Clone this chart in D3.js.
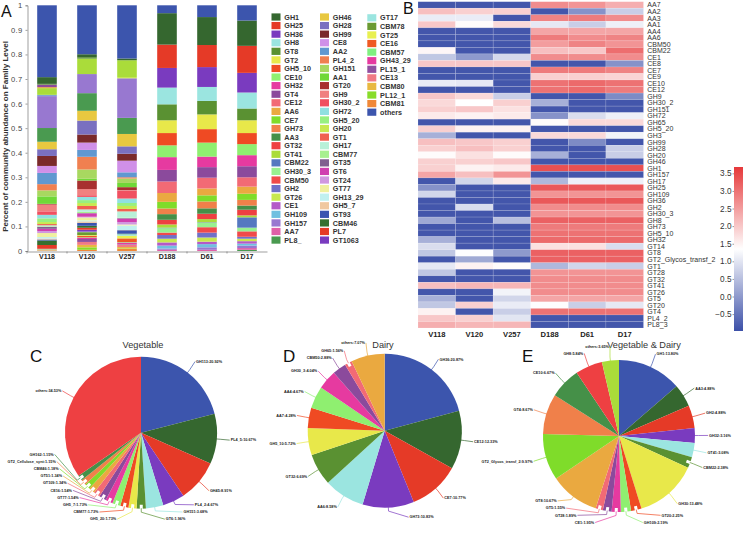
<!DOCTYPE html>
<html><head><meta charset="utf-8">
<script src="https://cdn.jsdelivr.net/npm/d3@7/dist/d3.min.js"></script>
<style>html,body{margin:0;padding:0;background:#fff}svg{display:block}text{font-family:"Liberation Sans",Arial,sans-serif}</style>
</head><body><svg id="c" width="743" height="536"></svg>
<script>
// ---------- Panel A data ----------
const samples=["V118","V120","V257","D188","D61","D17"];
const families=["GH1","GH25","GH36","GH8","GT8","GT2","GH5_10","CE10","GH32","GT4","CE12","AA6","CE7","GH73","AA3","GT32","GT41","CBM22","GH30_3","CBM50","GH2","GT26","CE1","GH109","GH157","AA7","PL8_",
"GH46","GH28","GH99","CE8","AA2","PL4_2","GH151","AA1","GT20","GH9","GH30_2","GH72","GH5_20","GH20","GT1","GH17","CBM77","GT35","GT6","GT24","GT77","GH13_29","GH5_7","GT93","CBM46","PL7","GT1063",
"GT17","CBM78","GT25","CE16","CBM57","GH43_29","PL15_1","CE13","CBM80","PL12_1","CBM81","others"];
const familyColors=["#35672f","#e53a27","#7a3bbf","#9be5e0","#5a9132","#e8e84a","#ef4a23","#8fef70","#e63aa0","#8b4a9c","#f26a75","#eaa940","#7fdc2a","#f0804a","#459048","#ee4042","#aadc3a","#5578c0","#98f090","#f04a4a","#7070c8","#c8e850","#b45ac8","#70c0e0","#9878d0","#e060a8","#4a9a50",
"#e8c840","#7a70c0","#7a2a2a","#d090e8","#6098d0","#f08050","#a8d860","#70d838","#a83030","#f08080","#f05060","#90e0e0","#98f080","#c8e850","#f06050","#b8f0d8","#a8f090","#806090","#d040b0","#d098e0","#f0f0a0","#c0f0f0","#f0c8a0","#3a55b0","#357030","#e53a27","#7a3bbf",
"#9be5e0","#6a9a32","#e8f050","#ef5a23","#80f080","#e63aa0","#9050a0","#f07a85","#e8b840","#88dc2a","#f08838","#3c55ad"];
const V118=[.027,0,0,0,.003,0,0,0,0,.01,0,.004,0,0,0,0,.027,.003,0,0,0,0,0,.002,.128,0,.055,
.03,.027,.04,.028,.045,.025,.024,.03,.003,.027,.014,.014,.015,.008,.005,.004,.002,.008,.009,.008,.016,.006,.004,.004,.018,.015,.001,
.001,.001,.001,.001,0,0,0,.001,.001,.001,.001,.288];
const V120=[.012,0,0,0,.006,0,0,0,0,0,0,0,0,0,0,0,.063,0,0,0,0,0,0,0,.078,0,.072,
.04,.057,.033,.03,.028,.052,.038,.007,.035,.025,.007,.013,.012,.012,.014,.01,.005,.001,.014,.003,.012,.004,.006,.012,.008,.008,.008,
.002,.012,.003,.006,.002,.005,.012,.012,.01,.01,.005,.2];
const V257=[.007,0,0,0,0,0,0,0,0,0,0,0,0,0,0,0,.068,0,0,0,0,.005,0,0,.16,0,.065,
.05,.03,.028,.047,.02,.005,.018,.017,.012,.002,.032,.018,.012,.012,.01,.025,.002,.002,.014,.01,.004,.018,.001,.014,.002,0,0,
.006,.001,.01,.015,.002,.006,.002,.01,.006,.002,.008,.215];
const D188=[.128,.095,.08,.068,.065,.052,.05,.048,.052,.047,.047,.036,.027,.023,.023,.019,.013,.002,.018,.01,.015,.015,.013,.012,.005,.005,0,
0,0,0,0,0,0,0,0,0,0,0,0,0,0,0,0,0,0,0,0,0,0,0,0,0,0,0,
0,0,0,0,0,0,0,0,0,0,0,.032];
const D61=[.114,.09,.081,.057,.055,.06,.055,.057,.043,.043,.044,.028,.025,.028,.022,.022,.013,.002,.018,.022,.02,.017,.01,.013,.01,.005,0,
0,0,0,0,0,0,0,0,0,0,0,0,0,0,0,0,0,0,0,0,0,0,0,0,0,0,0,
0,0,0,0,0,0,0,0,0,0,0,.048];
const D17=[.103,.11,.08,.065,.048,.052,.045,.045,.045,.045,.038,.029,.025,.023,.017,.023,.008,.042,.015,.022,.008,.01,.01,.008,.01,.007,.005,
0,0,0,0,0,0,0,0,0,0,0,0,0,0,0,0,0,0,0,0,0,0,0,0,0,0,0,
0,0,0,0,0,0,0,0,0,0,0,.062];
const sampleValues=[V118,V120,V257,D188,D61,D17];
const yTicksA=[0,.1,.2,.3,.4,.5,.6,.7,.8,.9,1];

// ---------- Panel B data ----------
const heatRows=["AA7","AA2","AA3","AA1","AA4","AA6","CBM50","CBM22","CE1","CE8","CE7","CE9","CE10","CE12","GH9","GH30_2","GH151","GH72","GH65","GH5_20","GH3","GH99","GH28","GH20","GH46","GH1","GH157","GH17","GH25","GH109","GH36","GH2","GH30_3","GH8","GH73","GH5_10","GH32","GT14","GT8","GT2_Glycos_transf_2","GT1","GT28","GT32","GT41","GT26","GT5","GT20","GT4","PL4_2","PL8_3"];
const heatValues=[
[-.9,-.9,-.9,2.7,2.6,2.3],[2.1,1.9,1.9,-.9,-.1,.7],[1.1,1.1,-.9,2.8,2.9,2.7],[2,1.4,1.8,1.05,.7,1.15],[-.9,-.9,-.9,2.4,2.4,2.4],
[-.9,-.9,-.9,2.9,2.7,2.8],[-.9,-.9,-.9,2.5,2.8,2.6],[1.45,-.9,-.9,2.1,2,3.05],[.6,0,.85,2.7,2.7,2.7],[2,2,2,-.9,-.9,-.1],
[-.9,-.9,-.9,2.9,2.9,2.8],[-.9,-.9,-.9,1.9,1.9,1.85],[1.1,1.05,-.9,3,3.1,3],[-.9,-.9,-.9,3,3.1,2.9],[2,1.8,.7,-.9,-.9,-.2],
[1.8,1.35,1.9,.3,-.9,-.9],[1.9,2,1.7,-.9,-.9,-.9],[1.6,1.5,1.6,-.1,.9,1.15],[-.9,-.9,-.9,1.4,1.8,1.8],[1.9,1.5,1.5,-.9,-.9,-.9],
[.3,-.9,-.9,1.8,1.8,1.2],[2.1,2,1.9,-.9,-.2,-.9],[1.9,2.1,1.9,-.9,-.9,.7],[1.4,1.7,1.4,.3,-.9,.7],[1.9,1.9,2,-.9,-.9,-.9],
[1.9,1.5,1.6,3.4,3.4,3.4],[2.4,2.1,2.6,-.9,-.9,-.9],[-.9,.8,1.6,.4,1.15,1.15],[-.1,-.9,-.9,3.3,3.3,3.3],[.8,-.9,-.9,2.6,2.6,2.6],
[-.9,-.9,-.9,3.3,3.3,3.3],[-.9,.9,-.9,2.7,2.7,2.7],[-.9,-.9,-.9,2.6,2.6,2.6],[.2,-.9,.5,3.2,3.2,3.2],[-.9,-.9,-.9,2.9,2.9,2.9],
[-.9,-.9,-.9,3,3,3],[.3,-.9,-.9,3.1,3.1,3.1],[.9,-.9,-.9,1.7,1.7,.9],[.6,1.33,0,3.2,3.2,3.2],[-.9,.2,-.9,3.2,3.2,3.2],
[1.05,1.5,1.4,.4,.8,.7],[.6,-.9,-.9,2.6,2.6,2.6],[-.9,-.9,-.9,2.7,2.7,2.7],[2.1,2.2,2.2,2.7,2.7,2.7],[-.9,-.9,1.2,2.7,2.7,2.7],
[.3,-.9,.8,2.4,2.4,2.4],[.6,1.9,1.1,1.33,.7,1.05],[1.5,-.9,.7,3,3,3],[2,1.9,1,-.9,-.9,-.9],[2.3,2.2,2.2,-.9,-.9,-.9]];
const colorbarTicks=[-.5,0,.5,1,1.5,2,2.5,3,3.5];

// ---------- Pie data ----------
const pieCNames=["GH113","PL4_5","GH45","PL4_2","GH151","GT6","GH5_20","CBM77","GH5_7","GT77","CE16","GT109","GT51","CBM46","GT2_Cellulose_synt","GH162","others"];
const pieCValues=[20.92,10.67,8.91,4.67,3.68,1.96,1.73,1.73,1.73,1.54,1.54,1.34,1.34,1.18,1.15,1.15,34.53];
const pieDNames=["GH36","CE12","CE7","GH73","AA6","GT32","GH5_10","AA7","AA4","GH30_3","CBM50","GH65","others"];
const pieDValues=[20.87,12.33,10.77,10.83,8.58,6.69,5.72,4.28,4.67,4.04,2.88,1.56,7.07];
const pieENames=["GH1","AA3","GH2","GH32","GT41","CBM22","GH30","GT20","GH109","CE1","GT28","GT5","GT8","GT2_Glycos_transf_2","GT4","CE10","GH8","others"];
const pieEValues=[13.8,4.88,4.88,3.16,3.08,2.38,13.48,2.25,2.19,1.95,1.89,1.55,10.67,9.97,8.67,6.67,5.84,3.65];
const piePalette=["#3c55ad","#35672f","#e53a27","#7a3bbf","#9be5e0","#5a9132","#e8e84a","#ef4a23","#8fef70","#e63aa0","#8b4a9c","#f26a75","#eaa940","#7fdc2a","#f0804a","#459048","#ee4042","#aadc3a"];

const svg=d3.select("#c");
svg.append("rect").attr("width",743).attr("height",536).attr("fill","#fff");
const letter=(t,x,y,s)=>svg.append("text").attr("x",x).attr("y",y).attr("font-size",s).attr("fill","#111").text(t);

// ---------- Panel A ----------
const xA=d3.scaleBand().domain(samples).range([27,267]).paddingInner(.51).paddingOuter(.255);
const yA=d3.scaleLinear().domain([0,1]).range([251,5.3]);
const rowsA=samples.map((s,i)=>{const o={sample:s};families.forEach((f,j)=>o[f]=sampleValues[i][j]);return o;});
const stackKeys=families.slice(0,-1).reverse().concat(families.slice(-1));
const stackA=d3.stack().keys(stackKeys).offset(d3.stackOffsetExpand)(rowsA);
const colorA=d3.scaleOrdinal(families,familyColors);
svg.append("g").selectAll("g").data(stackA).join("g").attr("fill",d=>colorA(d.key))
 .selectAll("rect").data(d=>d).join("rect")
 .attr("x",d=>xA(d.data.sample)).attr("width",xA.bandwidth())
 .attr("y",d=>yA(d[1])).attr("height",d=>yA(d[0])-yA(d[1]));
const axL=svg.append("g").attr("transform","translate(27.5,0)").call(d3.axisLeft(yA).tickValues(yTicksA).tickFormat(d=>String(d)).tickSize(2));
axL.selectAll("text").attr("font-size",7.6).attr("fill","#444").attr("font-family","Liberation Sans").attr("letter-spacing",".3");
axL.selectAll("line,path").attr("stroke","#777").attr("stroke-width",.7);
const axB=svg.append("g").attr("transform","translate(0,251.5)").call(d3.axisBottom(xA).tickSize(0).tickPadding(3));
axB.selectAll("text").attr("font-size",7).attr("font-weight","bold").attr("fill","#222").attr("font-family","Liberation Sans");
axB.selectAll("path").attr("stroke","#777").attr("stroke-width",.7);
axB.selectAll(".sep").data(samples).join("line").attr("class","sep")
 .attr("x1",d=>xA(d)-xA.step()*.255).attr("x2",d=>xA(d)-xA.step()*.255).attr("y1",0).attr("y2",2).attr("stroke","#777").attr("stroke-width",.7);
svg.append("text").attr("transform","translate(7.5,136.5) rotate(-90)").attr("text-anchor","middle")
 .attr("font-size",8).attr("font-weight","bold").attr("fill","#333").text("Percent of community abundance on Family Level");
letter("A",1,17,16);

// legend
const legendCols=[[0,27,271.5],[27,54,320],[54,66,367.3]];
legendCols.forEach(([a,b,x])=>{
 const g=svg.append("g");
 const step=8.58, top=a>=54?14.2:13.4;
 const items=families.slice(a,b);
 const gi=g.selectAll("g").data(items).join("g").attr("transform",(d,i)=>`translate(${x},${top+i*step})`);
 gi.append("rect").attr("width",9).attr("height",7.2).attr("fill",d=>colorA(d));
 gi.append("text").attr("x",12.8).attr("y",6.2).attr("font-size",7.2).attr("font-weight","bold").attr("fill","#333").text(d=>d);
});

// ---------- Panel B ----------
const xB=d3.scaleBand().domain(samples).range([418,643.5]);
const yB=d3.scaleBand().domain(heatRows).range([1.7,328]);
const colorB=d3.scaleLinear().domain([-.98,1.35,3.68]).range(["#3c50a8","#ffffff","#e6383a"]);
const cells=heatRows.flatMap((r,i)=>samples.map((s,j)=>({r,s,v:heatValues[i][j]})));
svg.append("g").selectAll("rect").data(cells).join("rect")
 .attr("x",d=>xB(d.s)).attr("y",d=>yB(d.r)).attr("width",xB.bandwidth()).attr("height",yB.bandwidth())
 .attr("fill",d=>colorB(d.v)).attr("stroke","#fff").attr("stroke-opacity",.22).attr("stroke-width",.6);
svg.append("g").selectAll("text").data(heatRows).join("text").attr("x",647.3)
 .attr("y",d=>yB(d)+yB.bandwidth()/2+2.5).attr("font-size",7).attr("fill","#333").text(d=>d);
svg.append("g").selectAll("text").data(samples).join("text").attr("x",d=>xB(d)+xB.bandwidth()/2).attr("y",336.5)
 .attr("text-anchor","middle").attr("font-size",7.6).attr("font-weight","bold").attr("fill","#222").text(d=>d);
letter("B",403,14,16);

// colorbar
const yBar=d3.scaleLinear().domain([-.98,3.68]).range([331,167]);
const grad=svg.append("defs").append("linearGradient").attr("id","cb").attr("x1",0).attr("x2",0).attr("y1",1).attr("y2",0);
colorB.domain().forEach(v=>grad.append("stop").attr("offset",(v+.98)/4.66).attr("stop-color",colorB(v)));
svg.append("rect").attr("x",734).attr("y",167).attr("width",9).attr("height",164).attr("fill","url(#cb)");
const axC=svg.append("g").attr("transform","translate(734,0)").call(d3.axisLeft(yBar).tickValues(colorbarTicks).tickFormat(d3.format(".1f")).tickSize(1.5).tickPadding(1));
axC.select("path").remove();
axC.selectAll("text").attr("font-size",8.2).attr("fill","#333").attr("font-family","Liberation Sans");
axC.selectAll("line").attr("stroke","#999");

// ---------- Pies ----------
function drawPie(names,values,cx,cy,R,title,titleX,tag,tagX,tagY){
 svg.append("text").attr("x",titleX).attr("y",347.5).attr("text-anchor","middle").attr("font-size",9.2).attr("fill","#333").text(title);
 letter(tag,tagX,tagY,17);
 const color=d3.scaleOrdinal(names,piePalette);
 const arcs=d3.pie().sort(null).value((d,i)=>values[i])(names);
 const g=svg.append("g").attr("transform",`translate(${cx},${cy})`);
 g.selectAll("path").data(arcs).join("path").attr("d",d3.arc().innerRadius(0).outerRadius(R)).attr("fill",d=>color(d.data));
 const LR=90, gap=7.2, maxY=86.5;
 const items=arcs.map(a=>{const m=(a.startAngle+a.endAngle)/2;
   return {name:a.data,value:values[a.index],m,side:Math.sin(m)>=0?1:-1,y:-Math.cos(m)*LR};});
 [1,-1].forEach(side=>{
  const s=items.filter(d=>d.side===side).sort((a,b)=>b.y-a.y);
  let last=maxY+gap;
  s.forEach(d=>{d.y=Math.min(d.y,last-gap);last=d.y;});
 });
 items.forEach(d=>{
  const dx=Math.sqrt(Math.max(LR*LR-d.y*d.y,100));
  d.x=d.side*dx;
  const ex=Math.sin(d.m),ey=-Math.cos(d.m);
  const p0=[ex*(R-.5),ey*(R-.5)],p1=[ex*(R+3.5),ey*(R+3.5)],p2=[d.x-d.side*1,d.y];
  g.append("polyline").attr("points",[[ex*(R-4),ey*(R-4)],p1].join(" ")).attr("fill","none").attr("stroke","#fff").attr("stroke-width",d.value<2.5?3:0);
  g.append("polyline").attr("points",[p0,p1,p2].join(" ")).attr("fill","none").attr("stroke",color(d.name)).attr("stroke-width",.7);
  g.append("text").attr("x",d.x).attr("y",d.y+1.3).attr("text-anchor",d.side>0?"start":"end")
   .attr("font-size",3.8).attr("font-weight","bold").attr("fill","#222").text(`${d.name}:${d.value.toFixed(2)}%`);
 });
}
drawPie(pieCNames,pieCValues,141,432.7,76,"Vegetable",143,"C",30,362);
drawPie(pieDNames,pieDValues,384.7,430.7,77,"Dairy",383,"D",283,362);
drawPie(pieENames,pieEValues,619,436,76,"Vegetable & Dairy",644,"E",522,362);
</script></body></html>
